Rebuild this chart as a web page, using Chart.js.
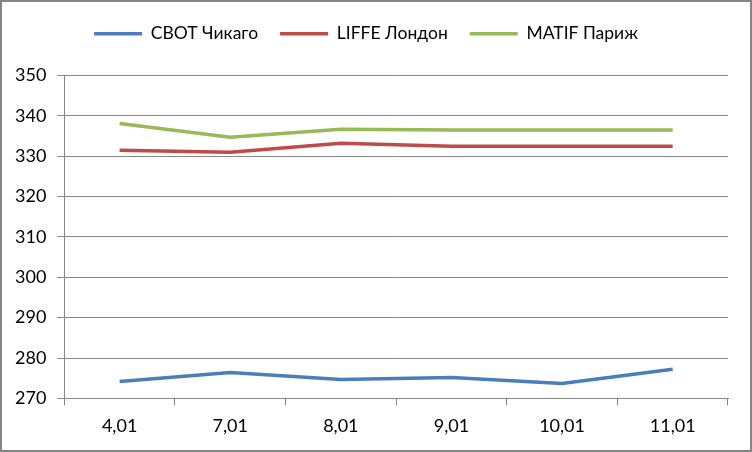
<!DOCTYPE html>
<html>
<head>
<meta charset="utf-8">
<script src="https://cdn.jsdelivr.net/npm/chart.js@4"></script>
<style>
  body { margin: 0; background: #fff; }
  .wrap { width: 752px; height: 452px; box-sizing: border-box; border: 2px solid #868686; }
</style>
</head>
<body>
<div class="wrap"><canvas id="chart" width="748" height="448"></canvas></div>
<script>
const dates = ['4,01', '7,01', '8,01', '9,01', '10,01', '11,01'];
const cbot = [274.2, 276.4, 274.7, 275.2, 273.7, 277.2];
const liffe = [331.5, 331.0, 333.2, 332.5, 332.5, 332.5];
const matif = [338.1, 334.7, 336.7, 336.5, 336.5, 336.5];

const font = { family: 'Lato, "Liberation Sans", sans-serif', size: 18 };

// extra space under the legend
const legendGap = {
  id: 'legendGap',
  beforeInit(chart) {
    const fit = chart.legend.fit;
    chart.legend.fit = function () {
      fit.bind(chart.legend)();
      this.height += 23;
    };
  }
};

const ctx = document.getElementById('chart');
new Chart(ctx, {
  type: 'line',
  data: {
    labels: dates,
    datasets: [
      { label: 'CBOT Чикаго', data: cbot, borderColor: '#4A7EBB', backgroundColor: '#4A7EBB', borderWidth: 3.5 },
      { label: 'LIFFE Лондон', data: liffe, borderColor: '#BE4B48', backgroundColor: '#BE4B48', borderWidth: 3.5 },
      { label: 'MATIF Париж', data: matif, borderColor: '#98B954', backgroundColor: '#98B954', borderWidth: 3.5 }
    ]
  },
  options: {
    responsive: false,
    animation: false,
    elements: {
      line: { tension: 0 },
      point: { radius: 0 }
    },
    layout: { padding: { left: 2, right: 22, top: 1, bottom: 3 } },
    plugins: {
      legend: {
        labels: {
          usePointStyle: true,
          pointStyle: 'line',
          pointStyleWidth: 48,
          padding: 22,
          color: '#000',
          font: { family: font.family, size: 17.5 }
        }
      },
      tooltip: { enabled: false }
    },
    scales: {
      x: {
        offset: true,
        grid: { offset: true, drawOnChartArea: false, color: '#868686', tickLength: 7 },
        border: { color: '#868686' },
        ticks: { color: '#000', font: font, padding: 10 }
      },
      y: {
        min: 270,
        max: 350,
        ticks: { stepSize: 10, color: '#000', font: font, padding: 11 },
        grid: { color: '#868686', tickLength: 7 },
        border: { color: '#868686' }
      }
    }
  },
  plugins: [legendGap]
});
</script>
</body>
</html>
